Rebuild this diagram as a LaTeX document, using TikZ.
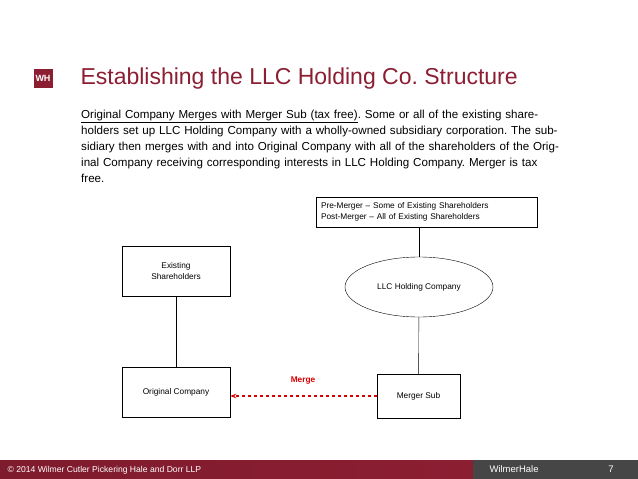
\documentclass[tikz,border=0pt]{standalone}
\usepackage{fontspec}
\setmainfont{Liberation Sans}
\usetikzlibrary{shapes.geometric,arrows.meta}
\definecolor{whred}{RGB}{140,30,50}
\definecolor{whgray}{RGB}{70,70,70}
\frenchspacing
\begin{document}
\begin{tikzpicture}[x=1pt,y=-1pt,
  box/.style = {draw, font=\fontsize{8.3}{10.5}\selectfont, align=center},
  link/.style = {draw, thin}]
\useasboundingbox (0,0) rectangle (638,479);
% footer bar
\shade[left color=whred!90!black, right color=whred] (0,460) rectangle (473,479);
\fill[whgray] (473,460) rectangle (638,479);
\node[anchor=west, text=white, font=\fontsize{8.6}{10}\selectfont] (copy) at (4,470) {\copyright{} 2014 Wilmer Cutler Pickering Hale and Dorr LLP};
\node[anchor=west, text=white, font=\fontsize{9.5}{10}\selectfont] (brand) at (486,469) {WilmerHale};
\node[text=white, font=\fontsize{9.5}{10}\selectfont] (page) at (611,469) {7};
% title
\node[fill=whred, minimum width=19, minimum height=19, inner sep=0, text=white, font=\bfseries\fontsize{9}{9}\selectfont] (logo) at (43,78) {WH};
\node[anchor=west, text=whred, font=\fontsize{23}{26}\selectfont] (title) at (77,79) {Establishing the LLC Holding Co. Structure};
\node[anchor=north west, text width=478, inner sep=0, align=left, font=\fontsize{11.6}{16}\selectfont] (intro) at (81,110)
 {\underline{Original Company Merges with Merger Sub (tax free)}. Some or all of the existing shareholders set up LLC Holding Company with a wholly-owned subsidiary corporation. The subsidiary then merges with and into Original Company with all of the shareholders of the Original Company receiving corresponding interests in LLC Holding Company. Merger is tax free.};
% diagram
\node[box, minimum width=221, minimum height=30, align=left, text width=211] (pre) at (426.5,212) {Pre-Merger -- Some of Existing Shareholders\\Post-Merger -- All of Existing Shareholders};
\node[box, minimum width=108, minimum height=50, anchor=north] (share) at (176,246) {Existing\\Shareholders};
\node[box, ellipse, minimum width=148, minimum height=60] (llc) at (419,287) {LLC Holding Company};
\node[box, minimum width=108, minimum height=50] (orig) at (176,392) {Original Company};
\node[box, minimum width=83, minimum height=44] (sub) at (418.5,396) {Merger Sub};
\draw[link] (llc.north |- pre.south) -- (llc);
\draw[link] (llc) -- (sub);
\draw[link] (share) -- (orig);
\draw[red!85!black, dashed, line width=1.2pt, -{Stealth[length=6pt]}] (sub.west) -- (orig.east |- sub.west);
\node[red!85!black, font=\bfseries\fontsize{8.3}{10}\selectfont] (merge) at (303,381) {Merge};
\end{tikzpicture}
\end{document}
